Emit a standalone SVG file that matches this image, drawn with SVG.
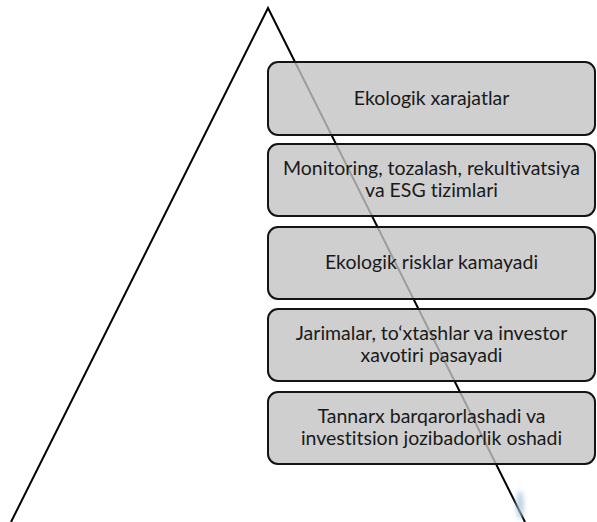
<svg xmlns="http://www.w3.org/2000/svg" width="597" height="522" viewBox="0 0 597 522">
<style>
.box{fill:#c3c3c3;fill-opacity:0.8;stroke:#141414;stroke-width:2}
.t{font-family:Lato,"Liberation Sans",sans-serif;font-size:19.5px;fill:#1a1a1a;text-anchor:middle;font-variant-ligatures:none}
.edge{fill:none;stroke:#000;stroke-width:2}
</style>
<defs>
<filter id="blur" x="-1" y="-1" width="3" height="3"><feGaussianBlur stdDeviation="2"/></filter>
</defs>
<rect width="597" height="522" fill="#fff"/>
<g id="pyramid">
<path class="edge" d="M11,522 L268,8 L525,522"/>
<ellipse cx="520" cy="505" rx="4" ry="14" fill="#a9c3dc" opacity="0.7" filter="url(#blur)"/>
</g>
<g id="connectors"></g>
<g id="node1">
<rect class="box" x="268" y="62" width="327" height="73" rx="10"/>
<text class="t" x="431.5" y="105">Ekologik xarajatlar</text>
</g>
<g id="node2">
<rect class="box" x="268" y="144" width="327" height="72" rx="10"/>
<text class="t" x="431.5" y="175">Monitoring, tozalash, rekultivatsiya</text>
<text class="t" x="431.5" y="197">va ESG tizimlari</text>
</g>
<g id="node3">
<rect class="box" x="268" y="227" width="327" height="72" rx="10"/>
<text class="t" x="431.5" y="269">Ekologik risklar kamayadi</text>
</g>
<g id="node4">
<rect class="box" x="268" y="309" width="327" height="72" rx="10"/>
<text class="t" x="431.5" y="340">Jarimalar, to‘xtashlar va investor</text>
<text class="t" x="431.5" y="362">xavotiri pasayadi</text>
</g>
<g id="node5">
<rect class="box" x="268" y="392" width="327" height="72" rx="10"/>
<text class="t" x="431.5" y="423">Tannarx barqarorlashadi va</text>
<text class="t" x="431.5" y="445">investitsion jozibadorlik oshadi</text>
</g>
</svg>
